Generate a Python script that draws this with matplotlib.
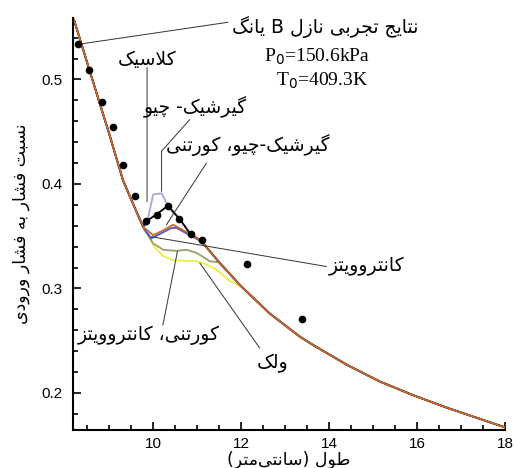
import re

import matplotlib
matplotlib.use("Agg")
import matplotlib.pyplot as plt
from matplotlib.ticker import MultipleLocator

# experimental points (Young, nozzle B)
EXP_X = [8.295, 8.545, 8.827, 9.084, 9.318, 9.584, 9.834, 10.09, 10.327,
         10.59, 10.85, 11.114, 12.123, 13.38]
EXP_Y = [0.5336, 0.5089, 0.4782, 0.4549, 0.4185, 0.3888, 0.3642, 0.3706,
         0.3792, 0.3664, 0.3523, 0.3466, 0.3236, 0.2708]

# part of the curves shared by all models
UP_X = [8.2, 8.5, 8.8, 9.0, 9.31, 9.5, 9.77]
UP_Y = [0.557, 0.516, 0.475, 0.448, 0.404, 0.385, 0.359]
DOWN_X = [11.1, 11.5, 12.0, 12.65, 13.33, 13.63, 14.4, 15.15, 15.9, 16.67, 18.0]
DOWN_Y = [0.345, 0.325, 0.302, 0.276, 0.254, 0.246, 0.227, 0.211, 0.198, 0.186, 0.167]

# shock region of each model
WOLK_X = [9.85, 10.04, 10.23, 10.45, 10.99, 11.21, 11.44, 11.74]
WOLK_Y = [0.353, 0.339, 0.331, 0.327, 0.326, 0.323, 0.318, 0.307]
CK_X = [9.81, 10.0, 10.23, 10.53, 10.76, 10.99, 11.29]
CK_Y = [0.356, 0.343, 0.337, 0.336, 0.337, 0.334, 0.326]
GC_X = [9.85, 10.0, 10.19, 10.3, 10.61, 10.83]
GC_Y = [0.361, 0.390, 0.391, 0.382, 0.366, 0.353]
KANT_X = [9.81, 9.96, 10.42, 10.53, 10.83]
KANT_Y = [0.356, 0.348, 0.358, 0.358, 0.351]
CLASSIC_X = [9.83, 10.08, 10.33, 10.61, 10.83]
CLASSIC_Y = [0.364, 0.371, 0.379, 0.366, 0.353]
GCC_X = [10.0, 10.2, 10.45, 10.8]
GCC_Y = [0.351, 0.355, 0.361, 0.353]

FA = ["DejaVu Sans"]

# minimal Persian shaping (matplotlib has no bidi / joining)
FORMS = {
    "ا": ("\uFE8D", "\uFE8E"),
    "ب": ("\uFE8F", "\uFE90", "\uFE91", "\uFE92"),
    "ت": ("\uFE95", "\uFE96", "\uFE97", "\uFE98"),
    "ج": ("\uFE9D", "\uFE9E", "\uFE9F", "\uFEA0"),
    "چ": ("\uFB7A", "\uFB7B", "\uFB7C", "\uFB7D"),
    "د": ("\uFEA9", "\uFEAA"),
    "ر": ("\uFEAD", "\uFEAE"),
    "ز": ("\uFEAF", "\uFEB0"),
    "س": ("\uFEB1", "\uFEB2", "\uFEB3", "\uFEB4"),
    "ش": ("\uFEB5", "\uFEB6", "\uFEB7", "\uFEB8"),
    "ط": ("\uFEC1", "\uFEC2", "\uFEC3", "\uFEC4"),
    "ف": ("\uFED1", "\uFED2", "\uFED3", "\uFED4"),
    "ک": ("\uFB8E", "\uFB8F", "\uFB90", "\uFB91"),
    "گ": ("\uFB92", "\uFB93", "\uFB94", "\uFB95"),
    "ل": ("\uFEDD", "\uFEDE", "\uFEDF", "\uFEE0"),
    "م": ("\uFEE1", "\uFEE2", "\uFEE3", "\uFEE4"),
    "ن": ("\uFEE5", "\uFEE6", "\uFEE7", "\uFEE8"),
    "ه": ("\uFEE9", "\uFEEA", "\uFEEB", "\uFEEC"),
    "و": ("\uFEED", "\uFEEE"),
    "ی": ("\uFBFC", "\uFBFD", "\uFBFE", "\uFBFF"),
}
LAM_ALEF = ("\uFEFB", "\uFEFC")


def fa(s):
    out = []
    i = 0
    while i < len(s):
        c = s[i]
        if c not in FORMS:
            if c != "\u200c":
                out.append(c)
            i += 1
            continue
        prev = s[i - 1] if i > 0 else ""
        joined = prev in FORMS and len(FORMS[prev]) == 4
        if c == "ل" and i + 1 < len(s) and s[i + 1] == "ا":
            out.append(LAM_ALEF[1] if joined else LAM_ALEF[0])
            i += 2
            continue
        nxt = s[i + 1] if i + 1 < len(s) else ""
        f = FORMS[c]
        links = len(f) == 4 and nxt in FORMS
        if joined and links:
            out.append(f[3])
        elif joined:
            out.append(f[1])
        elif links:
            out.append(f[2])
        else:
            out.append(f[0])
        i += 1
    runs = re.findall(r"[A-Za-z0-9.]+|.", "".join(out))
    mirror = {"(": ")", ")": "("}
    return "".join(mirror.get(r, r) for r in reversed(runs))


def curve(mx, my):
    xs = UP_X + mx + [x for x in DOWN_X if x > mx[-1]]
    ys = UP_Y + my + [y for x, y in zip(DOWN_X, DOWN_Y) if x > mx[-1]]
    return xs, ys


plt.rcParams["font.family"] = ["Liberation Sans", "DejaVu Sans"]

fig = plt.figure(figsize=(5.15, 4.68), dpi=100)
ax = fig.add_axes([0.142, 0.081, 0.839, 0.881])

series = [
    (WOLK_X, WOLK_Y, "#eeee44"),
    (CK_X, CK_Y, "#9c9c6c"),
    (GC_X, GC_Y, "#aaa6dc"),
    (KANT_X, KANT_Y, "#4658c8"),
    (CLASSIC_X, CLASSIC_Y, "black"),
    (GCC_X, GCC_Y, "#c96a2e"),
]
for mx, my, col in series:
    xs, ys = curve(mx, my)
    ax.plot(xs, ys, color=col, lw=1.3)

ax.plot(EXP_X, EXP_Y, "o", color="black", ms=4.5, zorder=5)

ax.set_xlim(8.18, 18)
ax.set_ylim(0.1645, 0.559)
ax.xaxis.set_major_locator(MultipleLocator(2))
ax.xaxis.set_minor_locator(MultipleLocator(0.5))
ax.yaxis.set_major_locator(MultipleLocator(0.1))
ax.yaxis.set_minor_locator(MultipleLocator(0.02))
ax.tick_params(which="both", direction="in", width=1.2, labelsize=11)
ax.tick_params(which="major", length=6)
ax.tick_params(which="minor", length=3.5)
ax.tick_params(axis="y", pad=8)
ax.tick_params(axis="x", pad=5)
for side in ("top", "right"):
    ax.spines[side].set_visible(False)
for side in ("left", "bottom"):
    ax.spines[side].set_linewidth(1.5)

ax.set_xlabel(fa("طول (سانتی\u200cمتر)"), family=FA, fontsize=12.5, labelpad=0)
ax.set_ylabel(fa("نسبت فشار به فشار ورودی"), family=FA, fontsize=12.5, labelpad=8)

lead = dict(arrowstyle="-", color="#333333", lw=0.7, shrinkA=0, shrinkB=0)
FS = 13.5

ax.annotate("", xy=(EXP_X[0], EXP_Y[0]), xytext=(11.70, 0.5547), arrowprops=lead,
            annotation_clip=False)
ax.text(11.79, 0.550, fa("نتایج تجربی نازل B یانگ"), family=FA, fontsize=FS,
        ha="left", va="center", clip_on=False)
ax.text(13.73, 0.522, "P$_0$=150.6kPa", family=["Liberation Serif"], fontsize=14,
        ha="center", va="center")
ax.text(13.84, 0.499, "T$_0$=409.3K", family=["Liberation Serif"], fontsize=14,
        ha="center", va="center")

ax.text(9.86, 0.519, fa("کلاسیک"), family=FA, fontsize=FS, ha="center", va="center")
ax.annotate("", xy=(9.86, 0.383), xytext=(9.86, 0.5115), arrowprops=lead)

ax.text(10.95, 0.473, fa("گیرشیک- چیو"), family=FA, fontsize=FS, ha="center", va="center")
ax.annotate("", xy=(10.19, 0.4313), xytext=(10.83, 0.4616), arrowprops=lead)
ax.annotate("", xy=(10.19, 0.3929), xytext=(10.19, 0.4313), arrowprops=lead)

ax.text(12.14, 0.4377, fa("گیرشیک-چیو، کورتنی"), family=FA, fontsize=FS,
        ha="center", va="center")
ax.annotate("", xy=(10.30, 0.361), xytext=(11.21, 0.420), arrowprops=lead)

ax.text(14.85, 0.3207, fa("کانتروویتز"), family=FA, fontsize=FS, ha="center", va="center")
ax.annotate("", xy=(9.96, 0.3495), xytext=(13.94, 0.321), arrowprops=lead)

ax.text(9.9, 0.2555, fa("کورتنی، کانتروویتز"), family=FA, fontsize=FS,
        ha="center", va="center")
ax.annotate("", xy=(10.55, 0.3354), xytext=(10.22, 0.265), arrowprops=lead)

ax.text(12.71, 0.2287, fa("ولک"), family=FA, fontsize=FS, ha="center", va="center")
ax.annotate("", xy=(11.06, 0.3243), xytext=(12.42, 0.243), arrowprops=lead)

fig.savefig("out.png", dpi=100)
